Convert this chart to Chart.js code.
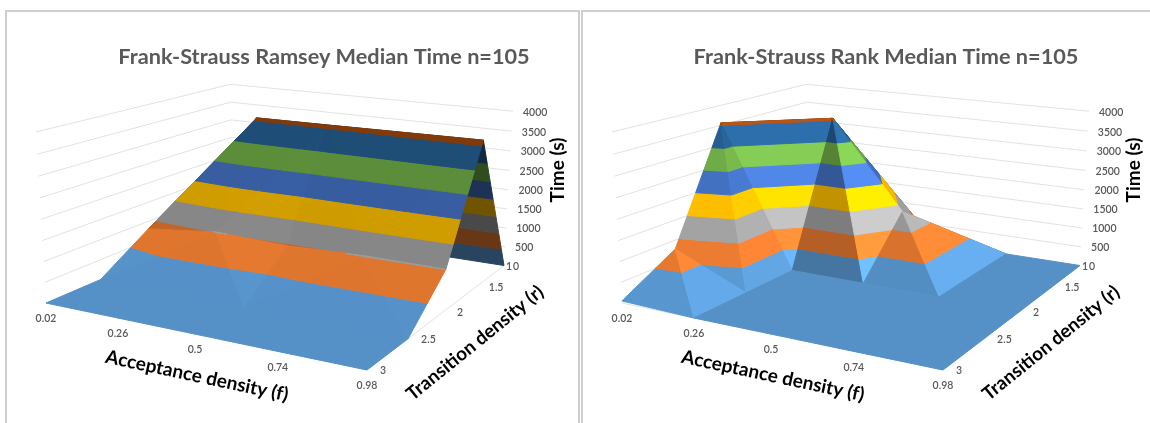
<!DOCTYPE html>
<html>
<head>
<meta charset="utf-8">
<style>
html, body { margin: 0; padding: 0; background: #fff; overflow: hidden; }
.panel { position: absolute; top: 10px; height: 420px; box-sizing: border-box; border: 2px solid #cfcfcf; background: #fff; }
canvas { position: absolute; left: -2px; top: -2px; }
</style>
<script src="https://cdn.jsdelivr.net/npm/chart.js@4"></script>
</head>
<body>
<div class="panel" style="left:5px;width:575px"><canvas id="ramseyChart" width="575" height="420"></canvas></div>
<div class="panel" style="left:581px;width:575px"><canvas id="rankChart" width="575" height="420"></canvas></div>
<script>
// ============================================
// DATA
// ============================================
const acceptanceLabels = ['0.02', '0.26', '0.5', '0.74', '0.98'];
const transitionLabels = ['1', '1.5', '2', '2.5', '3'];
const timeTicks = [0, 500, 1000, 1500, 2000, 2500, 3000, 3500, 4000];

// one row per transition density, one column per acceptance density
const ramseyR1 = [0, 0, 0, 0, 0];
const ramseyR15 = [0, 3565, 3580, 3600, 3620];
const ramseyR2 = [800, 1010, 950, 1015, 1005];
const ramseyR25 = [0, 0, 0, 0, 0];
const ramseyR3 = [0, 0, 0, 0, 0];

const rankR1 = [0, 0, 0, 0, 0];
const rankR15 = [0, 3555, 1350, 0, 0];
const rankR2 = [3560, 0, 0, 0, 0];
const rankR25 = [780, 0, 0, 0, 0];
const rankR3 = [50, 0, 0, 0, 0];

const bandColors = ['#5b9bd5', '#ed7d31', '#a5a5a5', '#ffc000', '#4472c4', '#70ad47', '#255e91', '#9e480e'];

// ============================================
// CAMERA: box corners on the page (left panel)
// ============================================
const FRONT_LEFT = [46, 303], FRONT_RIGHT = [367, 370], BACK_RIGHT = [504, 265.5], BACK_LEFT = [232, 223];
const TOP_FRONT_LEFT = [36, 132], TOP_BACK_RIGHT = [513, 110.5];
const Z_MAX = 4000;
const PANEL_SHIFT = 576;

function buildCamera() {
    const [x0, y0] = FRONT_LEFT, [x1, y1] = FRONT_RIGHT, [x2, y2] = BACK_RIGHT, [x3, y3] = BACK_LEFT;
    const dx1 = x1 - x2, dx2 = x3 - x2, sx = x0 - x1 + x2 - x3;
    const dy1 = y1 - y2, dy2 = y3 - y2, sy = y0 - y1 + y2 - y3;
    const det = dx1 * dy2 - dx2 * dy1;
    const g = (sx * dy2 - dx2 * sy) / det;
    const h = (dx1 * sy - sx * dy1) / det;
    const wc = 1 + g + h;
    const k = (wc * (TOP_BACK_RIGHT[0] - x2) - (TOP_FRONT_LEFT[0] - x0)) / (TOP_FRONT_LEFT[0] - TOP_BACK_RIGHT[0]);
    return {
        g, h, k,
        ax: [x1 - x0 + g * x1, x3 - x0 + h * x3, x0, (TOP_FRONT_LEFT[0] - x0) + k * TOP_FRONT_LEFT[0]],
        ay: [y1 - y0 + g * y1, y3 - y0 + h * y3, y0, (TOP_FRONT_LEFT[1] - y0) + k * TOP_FRONT_LEFT[1]]
    };
}
const camera = buildCamera();

// u: along acceptance, v: front to back, w: height, all 0..1
function project(u, v, w, shift) {
    const d = 1 + camera.g * u + camera.h * v + camera.k * w;
    return {
        x: (camera.ax[0] * u + camera.ax[1] * v + camera.ax[2] + camera.ax[3] * w) / d + shift,
        y: (camera.ay[0] * u + camera.ay[1] * v + camera.ay[2] + camera.ay[3] * w) / d
    };
}

// ============================================
// SURFACE
// ============================================
function shadeColor(hex, factor) {
    const n = parseInt(hex.slice(1), 16);
    const c = [n >> 16, (n >> 8) & 255, n & 255].map(v => Math.min(255, Math.round(v * factor)));
    return `rgb(${c[0]},${c[1]},${c[2]})`;
}

function facetShade(a, b, c) {
    const H = 0.6;
    const p = [b.u - a.u, b.v - a.v, (b.z - a.z) / Z_MAX * H];
    const q = [c.u - a.u, c.v - a.v, (c.z - a.z) / Z_MAX * H];
    let n = [p[1] * q[2] - p[2] * q[1], p[2] * q[0] - p[0] * q[2], p[0] * q[1] - p[1] * q[0]];
    if (n[2] < 0) n = n.map(v => -v);
    const len = Math.hypot(n[0], n[1], n[2]);
    const nf = Math.max(n[0] / len, 0), nr = -n[1] / len, nz = n[2] / len;
    return 0.36 + 0.175 * nr + 0.57 * nz + 0.52 * nf + 0.4 * nf * Math.max(nr, 0);
}

function clipBand(tri, lo, hi) {
    const clip = (poly, keep, limit) => {
        const out = [];
        poly.forEach((p, i) => {
            const q = poly[(i + 1) % poly.length];
            if (keep(p)) out.push(p);
            if (keep(p) !== keep(q)) {
                const t = (limit - p.z) / (q.z - p.z);
                out.push({ u: p.u + t * (q.u - p.u), v: p.v + t * (q.v - p.v), z: limit });
            }
        });
        return out;
    };
    const above = clip(tri, p => p.z >= lo, lo);
    return clip(above, p => p.z <= hi, hi);
}

function surfaceDatasets(rows, shift) {
    const sets = [];
    const node = (ri, fi) => ({ u: fi / (acceptanceLabels.length - 1), v: 1 - ri / (rows.length - 1), z: rows[ri][fi] });
    for (let ri = 0; ri < rows.length - 1; ri++) {
        for (let fi = 0; fi < acceptanceLabels.length - 1; fi++) {
            const a = node(ri, fi), b = node(ri, fi + 1), c = node(ri + 1, fi), d = node(ri + 1, fi + 1);
            // the cell folds along its higher diagonal
            const tris = (a.z + d.z >= b.z + c.z) ? [[a, c, d], [a, b, d]] : [[a, b, c], [b, c, d]];
            tris.sort((s, t) => (s[0].u + s[1].u + s[2].u - s[0].v - s[1].v - s[2].v) - (t[0].u + t[1].u + t[2].u - t[0].v - t[1].v - t[2].v));
            tris.forEach(tri => {
                const factor = facetShade(tri[0], tri[1], tri[2]);
                bandColors.forEach((hex, i) => {
                    const lo = i * 500, hi = (i + 1) * 500;
                    const poly = clipBand(tri, lo, hi);
                    if (poly.length < 3) return;
                    const pts = poly.map(p => project(p.u, p.v, p.z / Z_MAX, shift));
                    pts.push(pts[0]);
                    const color = shadeColor(hex, factor);
                    sets.push({ data: pts, showLine: true, fill: 'shape', tension: 0, pointRadius: 0, borderWidth: 1, borderColor: color, backgroundColor: color });
                });
            });
        }
    }
    return sets;
}

function gridDatasets(shift) {
    const line = pts => ({ data: pts, showLine: true, fill: false, tension: 0, pointRadius: 0, borderWidth: 1, borderColor: '#e2e2e2' });
    const sets = timeTicks.slice(1).map(t => line([
        project(0, 0, t / Z_MAX, shift), project(0, 1, t / Z_MAX, shift), project(1, 1, t / Z_MAX, shift)
    ]));
    sets.push(line([project(0, 0, 0, shift), project(1, 0, 0, shift), project(1, 1, 0, shift)]));
    return sets;
}

// ============================================
// TEXT
// ============================================
function textPlugin(title, shift, titleX) {
    const put = (ctx, text, x, y, font, color, align, angle) => {
        ctx.save();
        ctx.translate(x, y);
        ctx.rotate((angle || 0) * Math.PI / 180);
        ctx.font = font;
        ctx.fillStyle = color;
        ctx.textAlign = align || 'center';
        ctx.textBaseline = 'middle';
        ctx.fillText(text, 0, 0);
        ctx.restore();
    };
    return {
        id: 'panelText',
        afterDraw(chart) {
            const ctx = chart.ctx;
            const sx = chart.scales.x, sy = chart.scales.y;
            const tick = '600 10.5px Lato', tickColor = '#595959';
            const X = v => sx.getPixelForValue(v), Y = v => sy.getPixelForValue(v);
            put(ctx, title, X(titleX), Y(57), 'bold 21.7px Lato', '#595959');
            acceptanceLabels.forEach((s, i) => {
                const p = project(i / (acceptanceLabels.length - 1), 0, 0, shift);
                put(ctx, s, X(p.x), Y(p.y + 16), tick, tickColor);
            });
            transitionLabels.forEach((s, i) => {
                const p = project(1, 1 - i / (transitionLabels.length - 1), 0, shift);
                put(ctx, s, X(p.x + (i === 0 ? 2 : 13)), Y(p.y + 1), tick, tickColor, 'left');
            });
            timeTicks.forEach(t => {
                const p = project(1, 1, t / Z_MAX, shift);
                put(ctx, String(t), X(p.x + (t === 0 ? 9 : 10)), Y(p.y + 1), tick, tickColor, 'left');
            });
            put(ctx, 'Acceptance density (f)', X(197 + shift), Y(376), 'bold 19px Lato', '#000', 'center', 12);
            put(ctx, 'Transition density (r)', X(475 + shift), Y(343), 'bold 18.8px Lato', '#000', 'center', -39);
            put(ctx, 'Time (s)', X(558 + shift), Y(170), 'bold 19px Lato', '#000', 'center', -90);
        }
    };
}

// ============================================
// CHARTS
// ============================================
function drawPanel(canvasId, title, rows, shift, left, titleX) {
    const canvas = document.getElementById(canvasId);
    // first dataset ends up on top, so back-to-front order is reversed here
    const datasets = gridDatasets(shift).concat(surfaceDatasets(rows, shift)).reverse();
    new Chart(canvas.getContext('2d'), {
        type: 'scatter',
        data: { datasets },
        options: {
            responsive: false,
            animation: false,
            events: [],
            layout: { padding: 0 },
            plugins: { legend: { display: false }, tooltip: { enabled: false }, title: { display: false } },
            scales: {
                x: { type: 'linear', display: false, min: left, max: left + canvas.width },
                y: { type: 'linear', display: false, reverse: true, min: 10, max: 10 + canvas.height }
            }
        },
        plugins: [textPlugin(title, shift, titleX)]
    });
}

drawPanel('ramseyChart', 'Frank-Strauss Ramsey Median Time n=105', [ramseyR1, ramseyR15, ramseyR2, ramseyR25, ramseyR3], 0, 5, 324);
drawPanel('rankChart', 'Frank-Strauss Rank Median Time n=105', [rankR1, rankR15, rankR2, rankR25, rankR3], PANEL_SHIFT, 581, 886);
</script>
</body>
</html>
